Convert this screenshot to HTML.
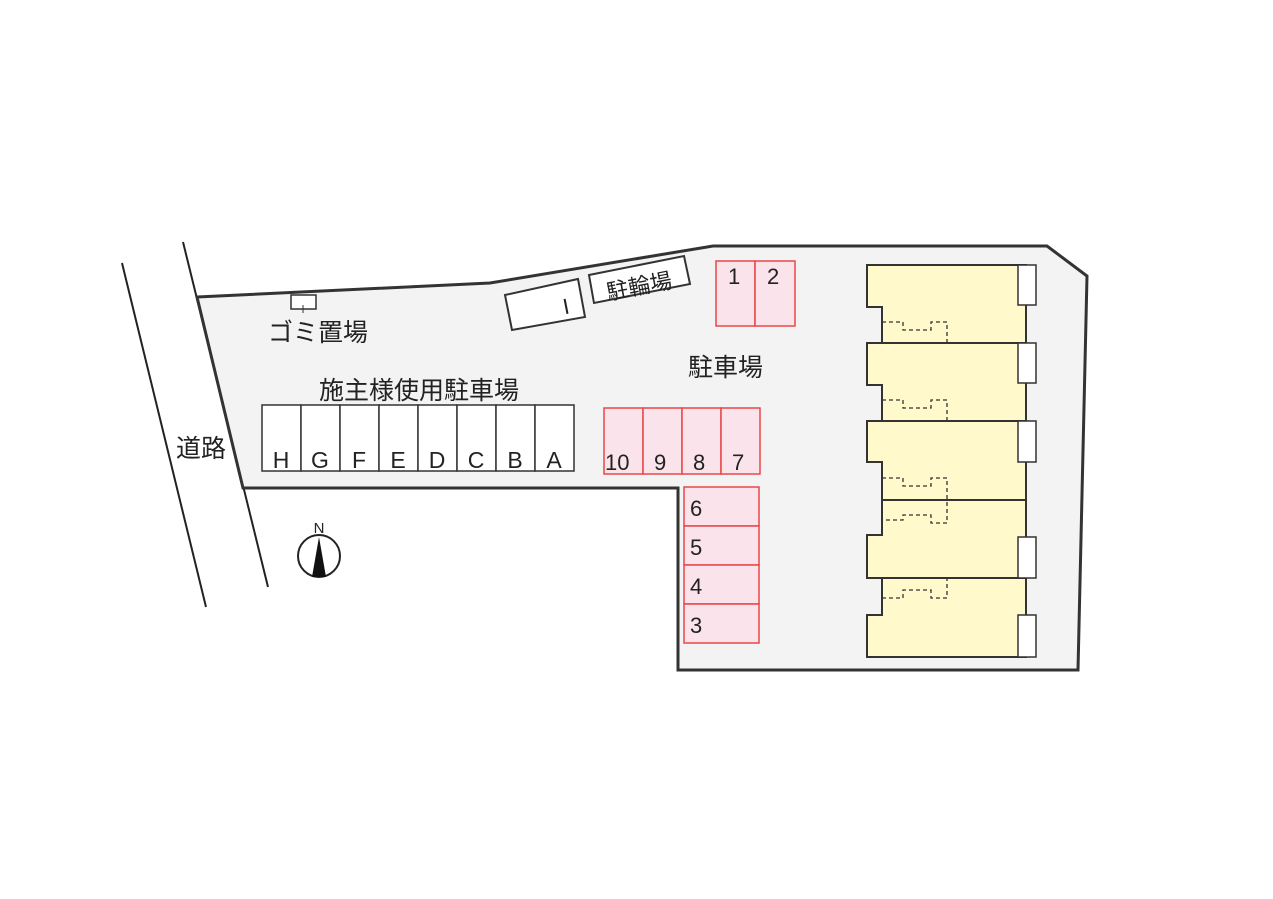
<!DOCTYPE html>
<html><head><meta charset="utf-8"><style>
html,body{margin:0;padding:0;background:#fff;}
svg{display:block}
text{font-family:"Liberation Sans","Noto Sans CJK JP",sans-serif;fill:#222}
</style></head><body>
<svg width="1273" height="899" viewBox="0 0 1273 899">
<line x1="122" y1="263" x2="206" y2="607" stroke="#222" stroke-width="2"/>
<line x1="183" y1="242" x2="268" y2="587" stroke="#222" stroke-width="2"/>
<text x="176" y="457" font-size="25">道路</text>
<polygon points="197,297 490,283 713,246 1047,246 1087,276 1078,670 678,670 678,488 243,488" fill="#f3f3f3" stroke="#333" stroke-width="3"/>
<rect x="291" y="295" width="25" height="14" fill="#fff" stroke="#333" stroke-width="1.5"/>
<line x1="303" y1="305" x2="303" y2="313" stroke="#333"/>
<line x1="298" y1="309" x2="308" y2="309" stroke="#333"/>
<text x="268" y="341" font-size="25">ゴミ置場</text>
<polygon points="505,295 578,279 585,317 512,330" fill="#fff" stroke="#333" stroke-width="2"/>
<text x="566" y="314" font-size="22" font-family="Liberation Serif" text-anchor="middle" transform="rotate(-11 566 306)">I</text>
<polygon points="589,275 684,256 690,284 594,303" fill="#fff" stroke="#333" stroke-width="2"/>
<text x="639" y="294" font-size="22" text-anchor="middle" transform="rotate(-11 639 285)">駐輪場</text>
<text x="688" y="376" font-size="25">駐車場</text>
<text x="319" y="399" font-size="25">施主様使用駐車場</text>
<g fill="#fff" stroke="#333" stroke-width="1.5">
<rect x="262" y="405" width="39" height="66"/><rect x="301" y="405" width="39" height="66"/>
<rect x="340" y="405" width="39" height="66"/><rect x="379" y="405" width="39" height="66"/>
<rect x="418" y="405" width="39" height="66"/><rect x="457" y="405" width="39" height="66"/>
<rect x="496" y="405" width="39" height="66"/><rect x="535" y="405" width="39" height="66"/>
</g>
<g font-size="23" text-anchor="middle">
<text x="281" y="468">H</text><text x="320" y="468">G</text><text x="359" y="468">F</text><text x="398" y="468">E</text>
<text x="437" y="468">D</text><text x="476" y="468">C</text><text x="515" y="468">B</text><text x="554" y="468">A</text>
</g>
<g fill="#fbe3ec" stroke="#e84848" stroke-width="1.5">
<rect x="716" y="261" width="39" height="65"/><rect x="755" y="261" width="40" height="65"/>
<rect x="604" y="408" width="39" height="66"/><rect x="643" y="408" width="39" height="66"/>
<rect x="682" y="408" width="39" height="66"/><rect x="721" y="408" width="39" height="66"/>
<rect x="684" y="487" width="75" height="39"/><rect x="684" y="526" width="75" height="39"/>
<rect x="684" y="565" width="75" height="39"/><rect x="684" y="604" width="75" height="39"/>
</g>
<g font-size="22">
<text x="728" y="284">1</text><text x="767" y="284">2</text>
<text x="605" y="470">10</text><text x="654" y="470">9</text><text x="693" y="470">8</text><text x="732" y="470">7</text>
<text x="690" y="516">6</text><text x="690" y="555">5</text><text x="690" y="594">4</text><text x="690" y="633">3</text>
</g>
<circle cx="319" cy="556" r="21" fill="#fff" stroke="#222" stroke-width="2"/>
<polygon points="319,537 312,577 326,577" fill="#111"/>
<text x="319" y="533" font-size="15" text-anchor="middle">N</text>
<g fill="#fff9cc" stroke="#333" stroke-width="2">
<path d="M867,265 H1026 V343 H882 V307 H867 Z"/>
<path d="M867,343 H1026 V421 H882 V385 H867 Z"/>
<path d="M867,421 H1026 V500 H882 V462 H867 Z"/>
<path d="M882,500 H1026 V578 H867 V535 H882 Z"/>
<path d="M882,578 H1026 V657 H867 V615 H882 Z"/>
</g>
<g fill="#fff" stroke="#333" stroke-width="1.5">
<rect x="1018" y="265" width="18" height="40"/>
<rect x="1018" y="343" width="18" height="40"/>
<rect x="1018" y="421" width="18" height="41"/>
<rect x="1018" y="537" width="18" height="41"/>
<rect x="1018" y="615" width="18" height="42"/>
</g>
<g fill="none" stroke="#333" stroke-width="1.3" stroke-dasharray="4,3">
<path d="M882,322 H903 V330 H931 V322 H947 V343"/>
<path d="M882,400 H903 V408 H931 V400 H947 V421"/>
<path d="M882,478 H903 V486 H931 V478 H947 V523 H931 V515 H903 V520 H882"/>
<path d="M882,598 H903 V590 H931 V598 H947 V578"/>
</g>
</svg>
</body></html>
